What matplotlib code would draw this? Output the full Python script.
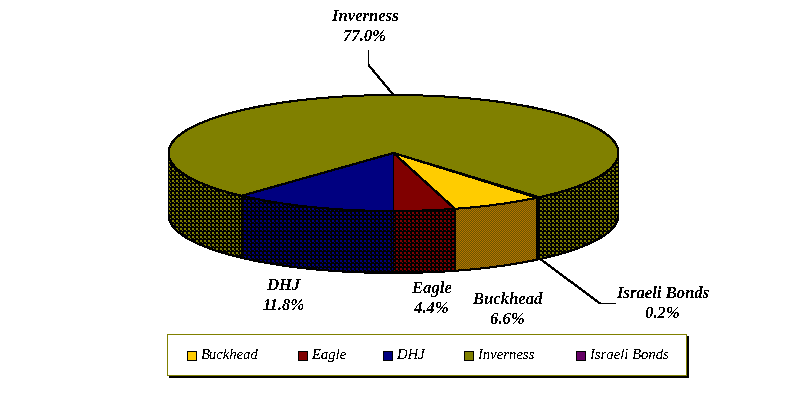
import numpy as np
import matplotlib
matplotlib.use("Agg")
import matplotlib.pyplot as plt
from matplotlib.patches import Polygon, Rectangle

# data
names = ["Buckhead", "Eagle", "DHJ", "Inverness", "Israeli Bonds"]
shares = [6.6, 4.4, 11.8, 77.0, 0.2]
colors = ["#FFCC00", "#800000", "#000080", "#808000", "#660066"]

# layout, in pixels of the picture
CX, CY = 393.5, 153.0
RX, RY = 225.0, 58.0
DEPTH = 62.0
START = -50.4
label_pos = [(508, 310), (432, 299), (284, 296), (365, 27), (663, 304)]
legend_swatch_x = [187, 298, 383, 464, 576]

plt.rcParams["font.family"] = ["Liberation Serif", "DejaVu Serif"]
plt.rcParams["text.antialiased"] = False

fig = plt.figure(figsize=(7.88, 3.96), dpi=100)
ax = fig.add_axes([0, 0, 1, 1])


def arc(a0, a1, dy=0.0):
    t = np.radians(np.linspace(a0, a1, max(int(abs(a1 - a0) * 3), 2)))
    return np.column_stack([CX + RX * np.cos(t), CY + dy - RY * np.sin(t)])


def dither(color):
    # the side walls are the slice colour dithered with a darker tone
    yy, xx = np.mgrid[0:396, 0:788]
    if color == "#FFCC00":
        on = (xx + yy) % 2 == 0
        return np.where(on[..., None], (180 / 255, 115 / 255, 0), (105 / 255, 85 / 255, 0))
    rgb = np.array(matplotlib.colors.to_rgb(color))
    on = (xx % 4 < 2) & (yy % 4 < 2)
    on |= (xx % 4 == 2) & (yy % 4 == 2)
    return on[..., None] * rgb


# slice angles, going clockwise
edges = START - np.cumsum([0] + shares) * 3.6

# side walls, only the front half of the ellipse shows
for i, c in enumerate(colors):
    a0, a1 = edges[i], edges[i + 1]
    for shift in (0, 360):
        lo, hi = max(a1 + shift, -180), min(a0 + shift, 0)
        if lo >= hi:
            continue
        pts = np.vstack([arc(hi, lo), arc(lo, hi, DEPTH)])
        poly = Polygon(pts, closed=True, fc="none", ec="black", lw=0.72,
                       antialiased=False, zorder=3)
        ax.add_patch(poly)
        im = ax.imshow(dither(c), extent=(0, 788, 396, 0),
                       interpolation="nearest", zorder=2, aspect="auto")
        im.set_clip_path(poly)

# top of the pie
for i, c in enumerate(colors):
    pts = np.vstack([[CX, CY], arc(edges[i], edges[i + 1])])
    ax.add_patch(Polygon(pts, closed=True, fc=c, ec="black", lw=0.72,
                         antialiased=False, zorder=4))

# leader lines
ax.plot([368.5, 368.5, 393.5], [51, 65, 95], color="black", lw=0.72, antialiased=False, zorder=5)
ax.plot([541, 600, 615], [259.5, 303.5, 303.5], color="black", lw=0.72, antialiased=False, zorder=5)

# data labels
for n, s, (x, y) in zip(names, shares, label_pos):
    ax.text(x, y, f"{n}\n{s:.1f}%", ha="center", va="center", fontsize=12,
            style="italic", weight="bold", linespacing=1.4, zorder=6)

# legend box
ax.add_patch(Rectangle((169, 336), 519, 41, fc="black", ec="black", lw=0.72,
                       antialiased=False, zorder=6))
ax.add_patch(Rectangle((167, 334), 519, 41, fc="white", ec="#808000", lw=0.72,
                       antialiased=False, zorder=7))
for n, c, x in zip(names, colors, legend_swatch_x):
    ax.add_patch(Rectangle((x, 351), 9, 9, fc=c, ec="black", lw=0.72,
                           antialiased=False, zorder=8))
    ax.text(x + 14, 355.5, n, ha="left", va="center", fontsize=10.5,
            style="italic", zorder=8)

ax.set_xlim(0, 788)
ax.set_ylim(396, 0)
ax.axis("off")
fig.savefig("out.png", dpi=100)
